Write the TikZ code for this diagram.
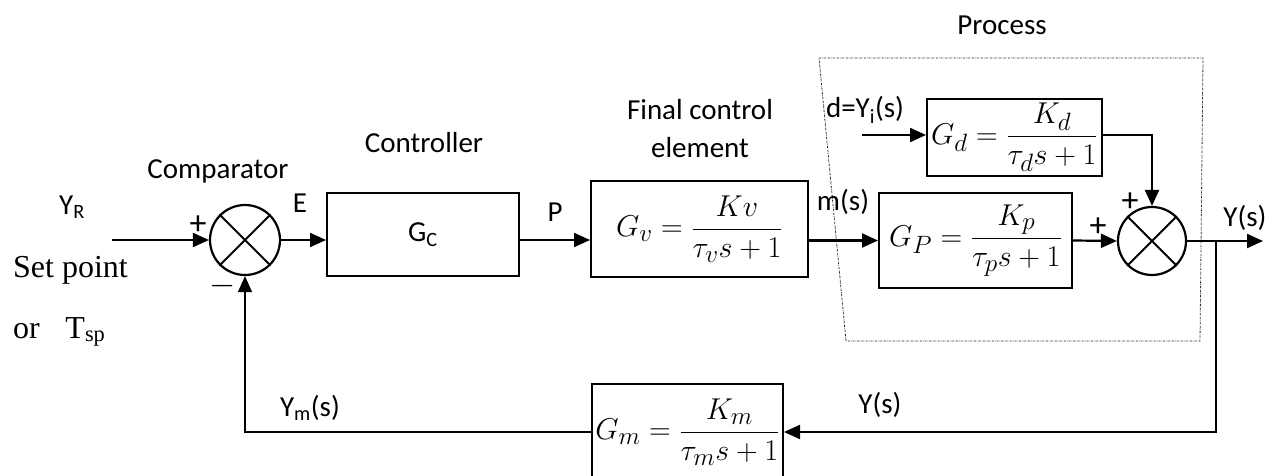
\documentclass[tikz,border=0pt]{standalone}
\usepackage{amsmath}
\usepackage{graphicx}
\usepackage{fontspec}
\setmainfont{Carlito}
\newfontfamily\timesf{Liberation Serif}
\usetikzlibrary{arrows.meta}
\newcommand{\bigmath}[1]{\scalebox{1.21}{$#1$}}
\begin{document}
\begin{tikzpicture}[x=1pt,y=-1pt,
  blk/.style={draw, line width=2pt, inner sep=0pt, font=\fontsize{24.88}{30}\selectfont},
  arr/.style={-{Triangle[length=16pt,width=14pt]}, line width=2.2pt},
  lbl/.style={font=\fontsize{29}{34}\selectfont, inner sep=0pt},
  tlbl/.style={font=\timesf\fontsize{32}{36}\selectfont, inner sep=0pt, anchor=west},
  sumj/.style={draw, circle, line width=2.2pt, minimum size=#1, inner sep=0pt},
  procbox/.style={draw=black!85, line width=0.8pt, dash pattern=on 2pt off 1pt on 0.5pt off 1pt}]
\useasboundingbox (0,0) rectangle (1275,476);
% process frame
\draw[procbox] (819,58) -- (1203,58) -- (1200,341) -- (846,341) -- cycle;
% summing junctions
\node[sumj=70pt] (c1) at (245,240) {};
\draw[line width=1.8pt] (c1.north west) -- (c1.south east) (c1.north east) -- (c1.south west);
\node[sumj=68pt] (c2) at (1152,241) {};
\draw[line width=1.8pt] (c2.north west) -- (c2.south east) (c2.north east) -- (c2.south west);
% blocks
\node[blk, font=\fontsize{29}{34}\selectfont, minimum width=192pt, minimum height=83pt] (gc) at (423,234.5) {G\textsubscript{C}};
\node[blk, minimum width=217pt, minimum height=96pt] (gv) at (699.5,229) {\bigmath{G_v=\dfrac{Kv}{\tau_v s+1}}};
\node[blk, minimum width=175pt, minimum height=77pt] (gd) at (1014.5,137.5) {\bigmath{G_d=\dfrac{K_d}{\tau_d s+1}}};
\node[blk, minimum width=193pt, minimum height=95pt] (gp) at (975.5,240.5) {\bigmath{G_P=\dfrac{K_p}{\tau_p s+1}}};
\node[blk, minimum width=191pt, minimum height=96pt] (gm) at (687.5,432) {\bigmath{G_m=\dfrac{K_m}{\tau_m s+1}}};
% free ends
\coordinate (in) at (112,240);
\coordinate (din) at (862,135);
\coordinate (out) at (1263,241);
\coordinate (fb) at (1216,241);
% connectors
\draw[arr] (in) -- (in -| c1.west);
\draw[arr] (c1.east) -- (c1.east -| gc.west);
\draw[arr] (gc.east |- c1) -- (gv.west |- c1);
\draw[arr] (gv.east |- gp) -- (gp.west);
\draw[arr] (gp.east) -- (c2.west);
\draw[arr] (c2.east) -- (out);
\draw[arr] (din) -- (din -| gd.west);
\draw[arr] (din -| gd.east) -| (c2.north);
\draw[arr] (fb) |- (gm.east);
\draw[-{Triangle[length=16pt,width=14pt]}, line width=1.5pt] (gm.west) -| (c1.south);
% labels
\node[lbl] (tcomp) at (218,171) {Comparator};
\node[lbl] (tctrl) at (424,143) {Controller};
\node[lbl] (tfce1) at (700,110) {Final control};
\node[lbl] (tfce2) at (700,148) {element};
\node[lbl] (tproc) at (1002,25) {Process};
\node[lbl] (tyr) at (72,207) {Y\textsubscript{R}};
\node[lbl] (te) at (300,203) {E};
\node[lbl] (tp) at (555,212) {P};
\node[lbl] (tm) at (843,202) {m(s)};
\node[lbl] (tys) at (1245,218) {Y(s)};
\node[lbl] (td) at (865,110) {d=Y\textsubscript{i}(s)};
\node[lbl] (tym) at (310,408) {Y\textsubscript{m}(s)};
\node[lbl] (tyf) at (880,405) {Y(s)};
\node[lbl, font=\fontsize{34}{38}\selectfont] (pl1) at (198,225) {+};
\node[lbl, font=\fontsize{24.88}{30}\selectfont] (mi1) at (223,286) {\scalebox{1.35}{$-$}};
\node[lbl, font=\fontsize{34}{38}\selectfont] (pl2) at (1130,202) {+};
\node[lbl, font=\fontsize{34}{38}\selectfont] (pl3) at (1098,227) {+};
\node[tlbl] (tset) at (13,270) {Set point};
\node[tlbl] (tor) at (13,332) {or\hspace{0.8em}T\textsubscript{sp}};
\end{tikzpicture}
\end{document}
